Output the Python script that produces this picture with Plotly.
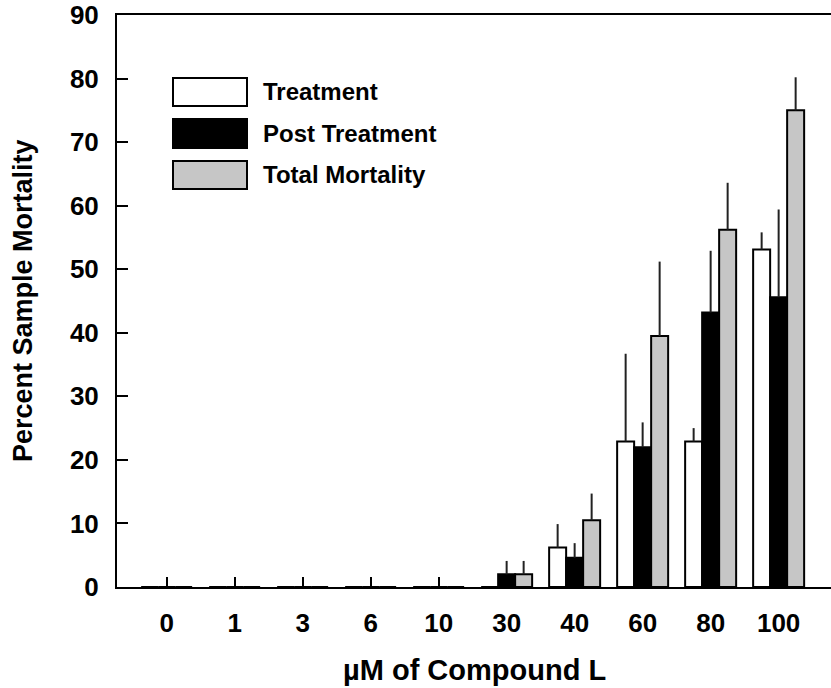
import plotly.graph_objects as go

# ---- data ----
concentrations = ["0", "1", "3", "6", "10", "30", "40", "60", "80", "100"]
treatment = [0, 0, 0, 0, 0, 0, 6.2, 22.9, 22.9, 53.1]
treatment_sd = [0, 0, 0, 0, 0, 0, 3.7, 13.8, 2.1, 2.7]
post_treatment = [0, 0, 0, 0, 0, 2.0, 4.6, 22.0, 43.2, 45.6]
post_treatment_sd = [0, 0, 0, 0, 0, 2.1, 2.3, 3.9, 9.7, 13.8]
total_mortality = [0, 0, 0, 0, 0, 2.0, 10.5, 39.5, 56.2, 75.0]
total_mortality_sd = [0, 0, 0, 0, 0, 2.1, 4.2, 11.7, 7.4, 5.2]
y_ticks = [0, 10, 20, 30, 40, 50, 60, 70, 80, 90]

series = [
    ("Treatment", treatment, treatment_sd, "#ffffff"),
    ("Post Treatment", post_treatment, post_treatment_sd, "#000000"),
    ("Total Mortality", total_mortality, total_mortality_sd, "#c6c6c6"),
]

FONT = "Liberation Sans, Arial, Helvetica, sans-serif"
W, H = 831, 688
L, R, T, B = 117, 0, 15, 101
pw, ph = W - L - R, H - T - B

xpos = list(range(len(concentrations)))

fig = go.Figure()
for name, vals, sd, color in series:
    fig.add_trace(go.Bar(
        x=xpos, y=vals, name=name,
        marker=dict(color=color, line=dict(color="#000000", width=2)),
        error_y=dict(type="data", array=sd, arrayminus=[0] * len(sd),
                     symmetric=False, width=0, thickness=2, color="#222222"),
        showlegend=False,
    ))

def px_x(p):
    return (p - L) / pw

def px_y(p):
    return (H - B - p) / ph

shapes = []
annotations = []
legend_boxes = [(78, 106), (119, 148), (161, 189)]
for (name, vals, sd, color), (y0, y1) in zip(series, legend_boxes):
    shapes.append(dict(type="rect", xref="paper", yref="paper",
                       x0=px_x(173), x1=px_x(247), y0=px_y(y1), y1=px_y(y0),
                       fillcolor=color, line=dict(color="#000000", width=2)))
    annotations.append(dict(xref="paper", yref="paper", x=px_x(261),
                            y=px_y((y0 + y1) / 2), xanchor="left", yanchor="middle",
                            text="<b>%s</b>" % name, showarrow=False,
                            font=dict(family=FONT, size=24, color="#000000")))

annotations.append(dict(xref="paper", yref="paper", x=0.5, y=px_y(670),
                        xanchor="center", yanchor="middle",
                        text="<b>µM of Compound L</b>", showarrow=False,
                        font=dict(family=FONT, size=29, color="#000000")))
annotations.append(dict(xref="paper", yref="paper", x=px_x(23), y=0.5,
                        xanchor="center", yanchor="middle", textangle=-90,
                        text="<b>Percent Sample Mortality</b>", showarrow=False,
                        font=dict(family=FONT, size=27, color="#000000")))

fig.update_layout(
    width=W, height=H,
    margin=dict(l=L, r=R, t=T, b=B, pad=0),
    paper_bgcolor="#ffffff", plot_bgcolor="#ffffff",
    barmode="group", bargap=0.25, bargroupgap=0,
    shapes=shapes, annotations=annotations,
    font=dict(family=FONT, color="#000000"),
)
fig.update_xaxes(
    range=[-0.73, 9.77], tickmode="array", tickvals=xpos,
    ticktext=["<b>%s</b>" % c for c in concentrations],
    ticks="inside", ticklen=10, tickwidth=2, tickcolor="#000000",
    showline=True, linewidth=2, linecolor="#000000", mirror=True,
    showgrid=False, zeroline=False,
    tickfont=dict(family=FONT, size=26, color="#000000"),
    ticklabelstandoff=12,
)
fig.update_yaxes(
    range=[0, 90], tickmode="array", tickvals=y_ticks,
    ticktext=["<b>%d</b>" % v for v in y_ticks],
    ticks="inside", ticklen=11, tickwidth=2, tickcolor="#000000",
    showline=True, linewidth=2, linecolor="#000000",
    showgrid=False, zeroline=False,
    tickfont=dict(family=FONT, size=26, color="#000000"),
    ticklabelstandoff=11,
)

fig.write_html("out.html")
